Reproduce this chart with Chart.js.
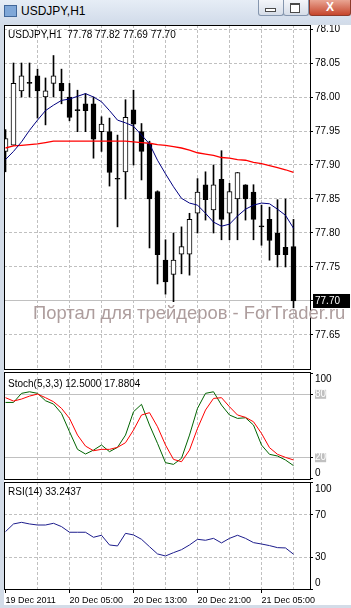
<!DOCTYPE html>
<html>
<head>
<meta charset="utf-8">
<script src="https://cdn.jsdelivr.net/npm/chart.js@4.4.1/dist/chart.umd.min.js"></script>
<style>
  html, body { margin: 0; padding: 0; }
  body { width: 351px; height: 608px; position: relative; overflow: hidden; background: #d3dce8;
         font-family: "Liberation Sans", Arial, sans-serif; }
  .abs { position: absolute; }
  #titlebar { left: 0; top: 0; width: 351px; height: 23px; background: linear-gradient(#e6edf6, #d2dcea); }
  #icon { left: 4px; top: 5px; width: 11px; height: 10px; background: #7fa7d8; border: 1px solid #41679a; }
  #caption { left: 21px; top: 5px; font-size: 12px; line-height: 12px; color: #000; }
  .btn { top: 0; height: 15px; border: 1px solid #8596ae; border-top: none; border-radius: 0 0 3px 3px;
         background: linear-gradient(#f4f6fa, #d6dde8); }
  #bmin { left: 258px; width: 24px; }
  #bmax { left: 283px; width: 24px; }
  #bclose { left: 309px; width: 40px; background: linear-gradient(#e9a593, #c6462c); border-color: #8e3b2b;
            color: #fff; font-size: 12px; font-weight: bold; line-height: 15px; text-align: center; }
  #gmin { left: 265px; top: 8px; width: 9px; height: 2px; border: 1px solid #4a4a4a; background: #fff; }
  #gmax { left: 290px; top: 3px; width: 8px; height: 7px; border: 1px solid #4a4a4a; border-top-width: 2px; background: #fff; }
  #panel { left: 4px; top: 25px; width: 347px; height: 580px; background: #fff; }
  canvas { position: absolute; left: 4px; }
  .lbl { position: absolute; left: 8px; font-size: 10px; line-height: 10px; color: #000; white-space: pre; }
  #wm { left: 33px; top: 304px; font-size: 18.4px; line-height: 18px; color: #ad9d9d; white-space: nowrap; }
</style>
</head>
<body>
<div id="titlebar" class="abs"></div>
<div id="icon" class="abs"></div>
<div id="caption" class="abs">USDJPY,H1</div>
<div id="bmin" class="abs btn"></div>
<div id="bmax" class="abs btn"></div>
<div id="bclose" class="abs btn">X</div>
<div id="gmin" class="abs"></div>
<div id="gmax" class="abs"></div>
<div id="panel" class="abs"></div>

<canvas id="mainChart" width="347" height="345" style="top:25px"></canvas>
<canvas id="stochChart" width="347" height="108" style="top:372px"></canvas>
<canvas id="rsiChart" width="347" height="123" style="top:482px"></canvas>

<div class="lbl" style="top:30px">USDJPY,H1  77.78 77.82 77.69 77.70</div>
<div class="lbl" style="top:379px">Stoch(5,3,3) 12.5000 17.8804</div>
<div class="lbl" style="top:487px">RSI(14) 33.2437</div>
<div id="wm" class="abs">Портал для трейдеров - ForTrader.ru</div>

<script>
// hourly bars, 19 Dec 2011 21:00 .. 21 Dec 2011 09:00
const hours = [
  "19 Dec 21:00", "19 Dec 22:00", "19 Dec 23:00", "20 Dec 00:00", "20 Dec 01:00", "20 Dec 02:00",
  "20 Dec 03:00", "20 Dec 04:00", "20 Dec 05:00", "20 Dec 06:00", "20 Dec 07:00", "20 Dec 08:00",
  "20 Dec 09:00", "20 Dec 10:00", "20 Dec 11:00", "20 Dec 12:00", "20 Dec 13:00", "20 Dec 14:00",
  "20 Dec 15:00", "20 Dec 16:00", "20 Dec 17:00", "20 Dec 18:00", "20 Dec 19:00", "20 Dec 20:00",
  "20 Dec 21:00", "20 Dec 22:00", "20 Dec 23:00", "21 Dec 00:00", "21 Dec 01:00", "21 Dec 02:00",
  "21 Dec 03:00", "21 Dec 04:00", "21 Dec 05:00", "21 Dec 06:00", "21 Dec 07:00", "21 Dec 08:00",
  "21 Dec 09:00"
];
// time axis labels, one every 8 bars
const timeLabels = ["19 Dec 2011", "20 Dec 05:00", "20 Dec 13:00", "20 Dec 21:00", "21 Dec 05:00"];

const opens = [77.920, 77.929, 78.009, 78.020, 78.031, 78.000, 78.020, 78.020, 78.000, 77.980,
               77.990, 77.990, 77.949, 77.949, 77.879, 77.890, 77.981, 77.949, 77.932, 77.861,
               77.760, 77.739, 77.769, 77.769, 77.829, 77.871, 77.834, 77.879, 77.829, 77.850,
               77.871, 77.860, 77.809, 77.820, 77.800, 77.779, 77.78];
const highs = [77.952, 78.050, 78.050, 78.050, 78.041, 78.028, 78.061, 78.041, 78.020, 78.010,
               78.005, 78.000, 77.971, 77.969, 77.944, 77.996, 78.010, 77.961, 77.935, 77.862,
               77.790, 77.800, 77.809, 77.829, 77.880, 77.890, 77.900, 77.921, 77.873, 77.889,
               77.871, 77.871, 77.841, 77.838, 77.849, 77.850, 77.82];
const lows = [77.890, 77.929, 78.000, 78.000, 77.969, 77.959, 78.000, 77.990, 77.965, 77.949,
              77.949, 77.910, 77.920, 77.869, 77.809, 77.850, 77.900, 77.878, 77.778, 77.725,
              77.710, 77.699, 77.740, 77.738, 77.800, 77.819, 77.800, 77.790, 77.790, 77.790,
              77.819, 77.790, 77.782, 77.760, 77.750, 77.750, 77.69];
const closes = [77.939, 78.020, 78.031, 78.020, 78.009, 78.009, 78.031, 78.009, 77.970, 77.980,
                77.980, 77.938, 77.960, 77.889, 77.879, 77.970, 77.960, 77.920, 77.850, 77.768,
                77.728, 77.760, 77.780, 77.820, 77.860, 77.849, 77.871, 77.820, 77.861, 77.889,
                77.850, 77.820, 77.809, 77.789, 77.768, 77.768, 77.70];

// moving averages on the price chart
const maBlue = [77.908, 77.920, 77.934, 77.951, 77.966, 77.980, 77.988, 77.995, 77.997, 78.001,
                78.005, 78.000, 77.993, 77.980, 77.966, 77.962, 77.957, 77.944, 77.931, 77.907,
                77.887, 77.868, 77.851, 77.844, 77.841, 77.829, 77.816, 77.810, 77.813, 77.825,
                77.835, 77.841, 77.844, 77.843, 77.835, 77.826, 77.807];
const maRed = [77.925, 77.928, 77.929, 77.930, 77.931, 77.933, 77.935, 77.935, 77.935, 77.935,
               77.935, 77.935, 77.935, 77.935, 77.935, 77.935, 77.934, 77.933, 77.932, 77.930,
               77.929, 77.927, 77.925, 77.922, 77.918, 77.916, 77.914, 77.911, 77.910, 77.908,
               77.907, 77.904, 77.902, 77.899, 77.896, 77.893, 77.889];

// Stochastic (5,3,3): main and signal
const stochMain = [72.3, 72.3, 80.9, 82.4, 80.9, 73.9, 70.8, 61.9, 44.6, 27.9,
                   23.5, 27.2, 32.0, 25.7, 29.8, 41.4, 63.5, 70.5, 50.9, 33.6,
                   15.3, 13.7, 19.4, 41.4, 66.7, 80.9, 82.4, 69.8, 60.4, 57.2,
                   57.8, 50.9, 32.0, 23.2, 21.6, 17.8, 12.5];
const stochSignal = [76.8, 73.6, 75.5, 78.3, 80.2, 76.8, 73.0, 66.7, 57.2, 41.4,
                     31.0, 26.6, 27.9, 27.9, 29.8, 34.2, 46.2, 60.4, 62.6, 49.3,
                     32.0, 18.4, 16.2, 27.2, 47.7, 65.1, 76.1, 76.8, 68.2, 60.4,
                     58.2, 54.0, 43.0, 29.5, 23.2, 20.3, 17.88];

// RSI(14)
const rsi = [54.4, 61.6, 63.1, 61.6, 60.6, 60.6, 62.2, 59.1, 53.8, 53.8,
             53.8, 49.1, 51.0, 41.9, 41.0, 52.8, 51.3, 47.2, 40.3, 33.5,
             31.6, 34.7, 37.5, 41.9, 47.2, 46.3, 48.1, 43.8, 48.1, 51.0,
             48.1, 44.1, 42.8, 41.3, 39.4, 39.1, 33.24];

const priceTicks = [77.65, 77.70, 77.75, 77.80, 77.85, 77.90, 77.95, 78.00, 78.05, 78.10];
const stochTicks = [0, 20, 80, 100];
const rsiTicks = [0, 30, 70, 100];
const gridBars = [4, 8, 12, 16, 20, 24, 28, 32, 36];

const FONT = { family: "'Liberation Sans', Arial, sans-serif", size: 10 };
const TIME_FONT = { family: "'Liberation Sans', Arial, sans-serif", size: 9 };
const GRID = '#c0c0c0';
const lastClose = closes[closes.length - 1];

// black frame round each panel
const framePlugin = {
  id: 'frame',
  afterDraw(chart) {
    const a = chart.chartArea, ctx = chart.ctx;
    ctx.save();
    ctx.strokeStyle = '#000';
    ctx.lineWidth = 1;
    ctx.strokeRect(a.left + 0.5, a.top + 0.5, a.right - a.left, a.bottom - a.top - 1);
    ctx.restore();
  }
};

function xy(arr) {
  return arr.map((v, i) => ({ x: i, y: v }));
}

function xScale(showLabels) {
  return {
    type: 'linear',
    offset: false,
    min: -0.1875,
    max: 38.0625,
    afterBuildTicks: s => {
      const vals = showLabels ? [0].concat(gridBars) : gridBars;
      s.ticks = vals.map(v => ({ value: v }));
    },
    afterFit: s => {
      s.height = showLabels ? 15 : 0;
      s.paddingLeft = 0;
      s.paddingRight = 0;
    },
    ticks: {
      display: showLabels,
      autoSkip: false,
      maxRotation: 0,
      align: 'start',
      padding: 2,
      font: TIME_FONT,
      color: '#000',
      callback: v => (v % 8 === 0 ? timeLabels[v / 8] : '')
    },
    grid: {
      offset: false,
      color: c => (c.tick && c.tick.value === 0 ? 'rgba(0,0,0,0)' : GRID),
      drawTicks: showLabels,
      tickLength: 3,
      tickColor: c => (c.tick && c.tick.value % 8 === 0 ? '#000' : 'rgba(0,0,0,0)'),
      tickBorderDash: []
    },
    border: { display: false, dash: [3, 2] }
  };
}

function sideScale(min, max, ticks, extra) {
  return Object.assign({
    position: 'right',
    min: min,
    max: max,
    afterBuildTicks: s => { s.ticks = ticks.map(v => ({ value: v })); },
    afterFit: s => { s.width = 41; s.paddingTop = 0; s.paddingBottom = 0; }
  }, extra);
}

const common = {
  responsive: false,
  animation: false,
  devicePixelRatio: 1,
  layout: { padding: 0 },
  plugins: { legend: { display: false }, tooltip: { enabled: false } }
};

// price chart
new Chart(document.getElementById('mainChart'), {
  type: 'bar',
  data: {
    datasets: [
      { type: 'line', data: xy(maBlue), borderColor: '#000080', borderWidth: 1, pointRadius: 0, order: 0 },
      { type: 'line', data: xy(maRed), borderColor: '#ff0000', borderWidth: 1.3, pointRadius: 0, order: 0 },
      {
        data: opens.map((o, i) => ({ x: i, y: [o, closes[i]] })),
        backgroundColor: opens.map((o, i) => (closes[i] > o ? '#fff' : '#000')),
        borderColor: '#000',
        borderWidth: 1,
        borderSkipped: false,
        barThickness: 5,
        minBarLength: 1,
        grouped: false,
        order: 1
      },
      {
        data: lows.map((l, i) => ({ x: i, y: [l, highs[i]] })),
        backgroundColor: '#000',
        borderWidth: 0,
        barThickness: 1,
        grouped: false,
        order: 2
      }
    ]
  },
  options: Object.assign({}, common, {
    scales: {
      x: xScale(false),
      y: sideScale(77.5985, 78.1059, priceTicks, {
        ticks: {
          font: FONT,
          padding: 2,
          color: c => (c.tick && c.tick.value === lastClose ? '#fff' : '#000'),
          showLabelBackdrop: c => !!(c.tick && c.tick.value === lastClose),
          backdropColor: '#000',
          backdropPadding: { top: 1, bottom: 1, left: 2, right: 10 },
          callback: v => v.toFixed(2)
        },
        grid: { color: GRID, tickLength: 3, tickColor: '#000', tickBorderDash: [] },
        border: { display: false, dash: c => (c.tick && c.tick.value === lastClose ? [] : [3, 2]) }
      })
    }
  }),
  plugins: [framePlugin]
});

// stochastic window
new Chart(document.getElementById('stochChart'), {
  type: 'line',
  data: {
    datasets: [
      { data: xy(stochSignal), borderColor: '#ff0000', borderWidth: 1, pointRadius: 0 },
      { data: xy(stochMain), borderColor: '#006400', borderWidth: 1, pointRadius: 0 }
    ]
  },
  options: Object.assign({}, common, {
    scales: {
      x: xScale(false),
      y: sideScale(-1.1, 101.1, stochTicks, {
        ticks: {
          font: c => ({ family: FONT.family, size: 10, lineHeight: (c.tick && (c.tick.value === 20 || c.tick.value === 80)) ? 0.9 : 1.2 }),
          padding: 2,
          color: c => (c.tick && (c.tick.value === 20 || c.tick.value === 80) ? '#fff' : '#000'),
          showLabelBackdrop: c => !!(c.tick && (c.tick.value === 20 || c.tick.value === 80)),
          backdropColor: GRID,
          backdropPadding: 0,
          callback: v => (v === 100 ? ['', '100'] : v === 0 ? ['0', ''] : String(v))
        },
        grid: {
          color: c => (c.tick && (c.tick.value === 20 || c.tick.value === 80) ? GRID : 'rgba(0,0,0,0)'),
          tickLength: 3, tickColor: '#000', tickBorderDash: []
        },
        border: { display: false, dash: [] }
      })
    }
  }),
  plugins: [framePlugin]
});

// RSI window with the time axis
new Chart(document.getElementById('rsiChart'), {
  type: 'line',
  data: {
    datasets: [
      { data: xy(rsi), borderColor: '#1c1c8c', borderWidth: 1, pointRadius: 0 }
    ]
  },
  options: Object.assign({}, common, {
    scales: {
      x: xScale(true),
      y: sideScale(-0.3, 100.9, rsiTicks, {
        ticks: {
          font: FONT,
          padding: 2,
          color: '#000',
          callback: v => (v === 100 ? ['', '100'] : v === 0 ? ['0', ''] : String(v))
        },
        grid: {
          color: c => (c.tick && (c.tick.value === 30 || c.tick.value === 70) ? GRID : 'rgba(0,0,0,0)'),
          tickLength: 3, tickColor: '#000', tickBorderDash: []
        },
        border: { display: false, dash: [3, 2] }
      })
    }
  }),
  plugins: [framePlugin]
});
</script>
</body>
</html>
